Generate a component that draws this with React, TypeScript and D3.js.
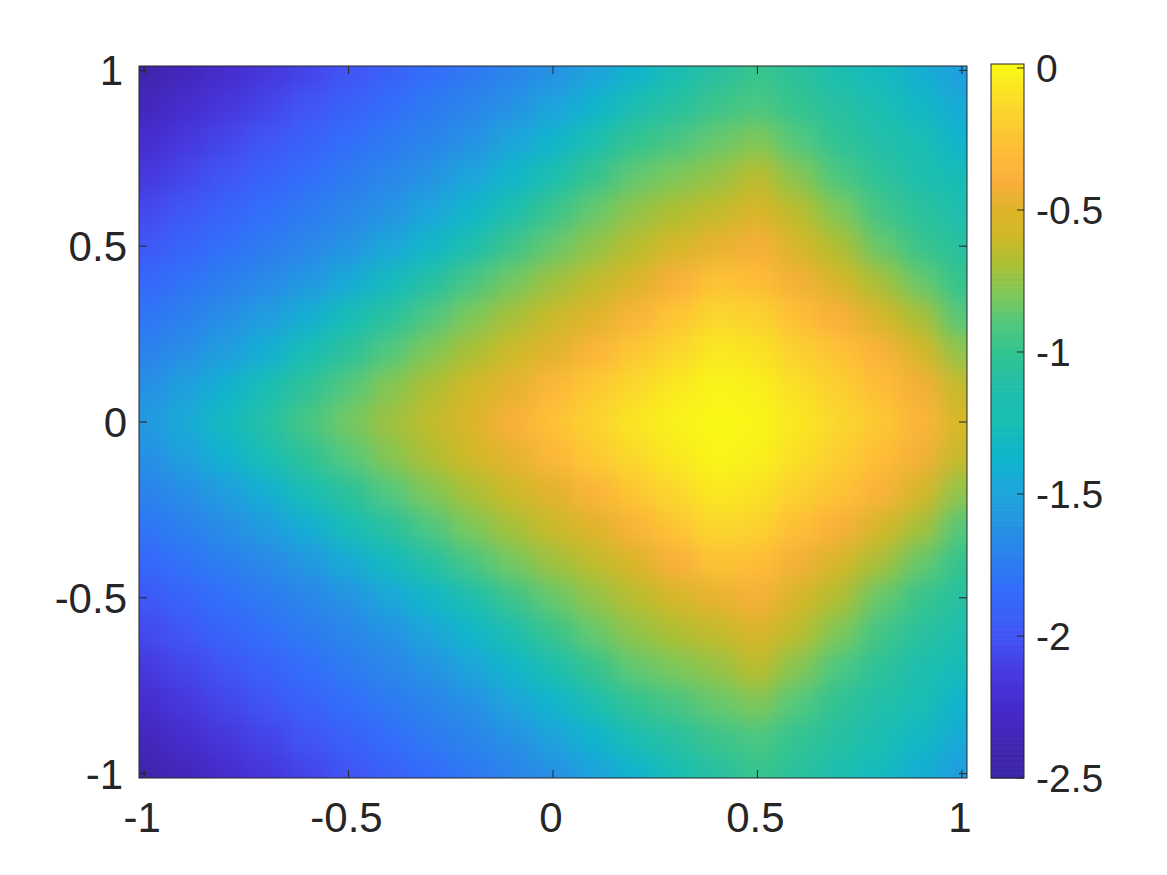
import React from "react";
import * as d3 from "d3";

const xGrid = [-1,-0.9,-0.8,-0.7,-0.6,-0.5,-0.4,-0.3,-0.2,-0.1,0,0.1,0.2,0.3,0.4,0.5,0.6,0.7,0.8,0.9,1];
const yGrid = [1,0.9,0.8,0.7,0.6,0.5,0.4,0.3,0.2,0.1,0,-0.1,-0.2,-0.3,-0.4,-0.5,-0.6,-0.7,-0.8,-0.9,-1];
const heat: number[][] = [
[-2.42,-2.33,-2.24,-2.16,-2.08,-2,-1.92,-1.84,-1.77,-1.69,-1.62,-1.52,-1.38,-1.24,-1.08,-0.98,-1.06,-1.18,-1.3,-1.42,-1.55],
[-2.33,-2.24,-2.16,-2.08,-2,-1.92,-1.84,-1.76,-1.69,-1.62,-1.51,-1.37,-1.19,-1.08,-0.97,-0.92,-1,-1.09,-1.2,-1.33,-1.46],
[-2.24,-2.15,-2.07,-1.99,-1.91,-1.83,-1.76,-1.69,-1.62,-1.5,-1.36,-1.18,-1,-0.93,-0.85,-0.79,-0.9,-1.02,-1.12,-1.22,-1.38],
[-2.15,-2.07,-1.99,-1.91,-1.83,-1.75,-1.68,-1.61,-1.5,-1.35,-1.17,-0.99,-0.86,-0.8,-0.74,-0.64,-0.78,-0.92,-1.04,-1.15,-1.27],
[-2.06,-1.98,-1.9,-1.82,-1.75,-1.68,-1.61,-1.49,-1.35,-1.16,-0.98,-0.85,-0.75,-0.68,-0.62,-0.52,-0.65,-0.8,-0.95,-1.06,-1.16],
[-1.98,-1.9,-1.82,-1.75,-1.68,-1.6,-1.48,-1.34,-1.15,-0.97,-0.85,-0.75,-0.65,-0.56,-0.46,-0.41,-0.55,-0.68,-0.85,-0.98,-1.08],
[-1.88,-1.8,-1.73,-1.66,-1.58,-1.45,-1.3,-1.1,-0.93,-0.82,-0.72,-0.63,-0.51,-0.4,-0.26,-0.29,-0.42,-0.55,-0.7,-0.85,-1],
[-1.79,-1.72,-1.64,-1.55,-1.42,-1.26,-1.07,-0.91,-0.8,-0.7,-0.6,-0.49,-0.37,-0.24,-0.14,-0.17,-0.28,-0.4,-0.55,-0.7,-0.9],
[-1.71,-1.64,-1.54,-1.41,-1.24,-1.05,-0.9,-0.79,-0.69,-0.59,-0.48,-0.36,-0.23,-0.14,-0.06,-0.09,-0.18,-0.26,-0.38,-0.55,-0.76],
[-1.63,-1.53,-1.39,-1.22,-1.03,-0.89,-0.78,-0.68,-0.58,-0.47,-0.34,-0.22,-0.13,-0.06,-0.01,-0.03,-0.11,-0.19,-0.29,-0.42,-0.62],
[-1.58,-1.45,-1.3,-1.1,-0.93,-0.82,-0.72,-0.63,-0.51,-0.4,-0.26,-0.16,-0.08,-0.02,0,-0.01,-0.07,-0.14,-0.23,-0.35,-0.56],
[-1.63,-1.53,-1.39,-1.22,-1.03,-0.89,-0.78,-0.68,-0.58,-0.47,-0.34,-0.22,-0.13,-0.06,-0.01,-0.03,-0.11,-0.19,-0.29,-0.42,-0.62],
[-1.71,-1.64,-1.54,-1.41,-1.24,-1.05,-0.9,-0.79,-0.69,-0.59,-0.48,-0.36,-0.23,-0.14,-0.06,-0.09,-0.18,-0.26,-0.38,-0.55,-0.76],
[-1.79,-1.72,-1.64,-1.55,-1.42,-1.26,-1.07,-0.91,-0.8,-0.7,-0.6,-0.49,-0.37,-0.24,-0.14,-0.17,-0.28,-0.4,-0.55,-0.7,-0.9],
[-1.88,-1.8,-1.73,-1.66,-1.58,-1.45,-1.3,-1.1,-0.93,-0.82,-0.72,-0.63,-0.51,-0.4,-0.26,-0.29,-0.42,-0.55,-0.7,-0.85,-1],
[-1.98,-1.9,-1.82,-1.75,-1.68,-1.6,-1.48,-1.34,-1.15,-0.97,-0.85,-0.75,-0.65,-0.56,-0.46,-0.41,-0.55,-0.68,-0.85,-0.98,-1.08],
[-2.06,-1.98,-1.9,-1.82,-1.75,-1.68,-1.61,-1.49,-1.35,-1.16,-0.98,-0.85,-0.75,-0.68,-0.62,-0.52,-0.65,-0.8,-0.95,-1.06,-1.16],
[-2.15,-2.07,-1.99,-1.91,-1.83,-1.75,-1.68,-1.61,-1.5,-1.35,-1.17,-0.99,-0.86,-0.8,-0.74,-0.64,-0.78,-0.92,-1.04,-1.15,-1.27],
[-2.24,-2.15,-2.07,-1.99,-1.91,-1.83,-1.76,-1.69,-1.62,-1.5,-1.36,-1.18,-1,-0.93,-0.85,-0.79,-0.9,-1.02,-1.12,-1.22,-1.38],
[-2.33,-2.24,-2.16,-2.08,-2,-1.92,-1.84,-1.76,-1.69,-1.62,-1.51,-1.37,-1.19,-1.08,-0.97,-0.92,-1,-1.09,-1.2,-1.33,-1.46],
[-2.42,-2.33,-2.24,-2.16,-2.08,-2,-1.92,-1.84,-1.77,-1.69,-1.62,-1.52,-1.38,-1.24,-1.08,-0.98,-1.06,-1.18,-1.3,-1.42,-1.55],
];
const axisTicks = [-1, -0.5, 0, 0.5, 1];
const barTicks = [0, -0.5, -1, -1.5, -2, -2.5];
const barLevels = d3.range(144);
const paletteValues = [-2.5,-2.43,-2.27,-2.12,-2,-1.83,-1.65,-1.5,-1.37,-1.25,-1.15,-1,-0.89,-0.8,-0.68,-0.58,-0.5,-0.4,-0.28,-0.14,0.014];
const paletteColors = ["#3e26a8","#3e26a8","#4628c8","#463ce1","#4155f5","#326efa","#288ce6","#1ea5dc","#0fb4cd","#19beb4","#1ebeaf","#32c391","#55c87d","#7dc85a","#afbe32","#d2b928","#dcb428","#faaf3c","#ffbe37","#fad72d","#fafa14"];
const valueMin = -2.5;
const valueMax = 0.014;
const axisPad = 1.0125;

const L = 139, R = 967, T = 66, B = 778;
const BL = 991, BR = 1024, BT = 64, BB = 778;
const INK = "#262626";
const FONT = "'Liberation Sans', Arial, Helvetica, sans-serif";

const x = d3.scaleLinear().domain([-axisPad, axisPad]).range([L, R]);
const y = d3.scaleLinear().domain([-axisPad, axisPad]).range([B, T]);
const vy = d3.scaleLinear().domain([valueMin, valueMax]).range([BB, BT]);
const color = d3.scaleLinear<string>()
  .domain(paletteValues)
  .range(paletteColors)
  .interpolate(d3.interpolateRgb);

const label = (v: number) => String(v);

export default function App() {
  const stepX = 0.05, stepY = 0.05, grow = 70;
  return (
    <svg width={1167} height={875} viewBox="0 0 1167 875" style={{ position: "absolute", left: 0, top: 0, background: "#fff" }}>
      <defs>
        <clipPath id="plot"><rect x={L} y={T} width={R - L} height={B - T} /></clipPath>
        <filter id="soft" filterUnits="userSpaceOnUse" x={L - 100} y={T - 100} width={R - L + 200} height={B - T + 200} colorInterpolationFilters="sRGB">
          <feGaussianBlur stdDeviation="13 11" />
        </filter>
      </defs>
      <g clipPath="url(#plot)">
        <g filter="url(#soft)">
          {heat.map((row, j) => row.map((v, i) => {
            const x0 = x(xGrid[i] - stepX) - (i === 0 ? grow : 0);
            const x1 = x(xGrid[i] + stepX) + (i === xGrid.length - 1 ? grow : 0);
            const y0 = y(yGrid[j] + stepY) - (j === 0 ? grow : 0);
            const y1 = y(yGrid[j] - stepY) + (j === yGrid.length - 1 ? grow : 0);
            return <rect key={`${i}-${j}`} x={x0} y={y0} width={x1 - x0 + 1} height={y1 - y0 + 1} fill={color(v)} />;
          }))}
        </g>
      </g>
      <rect x={L} y={T} width={R - L} height={B - T} fill="none" stroke={INK} strokeWidth={1} />
      <g stroke={INK} strokeWidth={1}>
        {axisTicks.map(t => (
          <g key={t}>
            <line x1={x(t)} x2={x(t)} y1={B} y2={B - 8} />
            <line x1={x(t)} x2={x(t)} y1={T} y2={T + 8} />
            <line y1={y(t)} y2={y(t)} x1={L} x2={L + 8} />
            <line y1={y(t)} y2={y(t)} x1={R} x2={R - 8} />
          </g>
        ))}
      </g>
      <g fill={INK} fontFamily={FONT} fontSize={42}>
        {axisTicks.map(t => (
          <text key={t} x={x(t) - 2} y={832} textAnchor="middle">{label(t)}</text>
        ))}
        {axisTicks.map(t => (
          <text key={t} x={Math.abs(t) === 1 ? 123 : 127} y={y(t) + 15} textAnchor="end">{label(t)}</text>
        ))}
      </g>
      {barLevels.map(i => {
        const v0 = valueMin + (valueMax - valueMin) * i / barLevels.length;
        const v1 = valueMin + (valueMax - valueMin) * (i + 1) / barLevels.length;
        return <rect key={i} x={BL} y={vy(v1)} width={BR - BL} height={vy(v0) - vy(v1) + 0.6} fill={color((v0 + v1) / 2)} />;
      })}
      <rect x={BL} y={BT} width={BR - BL} height={BB - BT} fill="none" stroke={INK} strokeWidth={1} />
      <g stroke={INK} strokeWidth={1}>
        {barTicks.map(t => <line key={t} x1={BR} x2={BR - 7} y1={vy(t)} y2={vy(t)} />)}
      </g>
      <g fill={INK} fontFamily={FONT} fontSize={39}>
        {barTicks.map(t => <text key={t} x={1036} y={vy(t) + 14} textAnchor="start">{label(t)}</text>)}
      </g>
    </svg>
  );
}
